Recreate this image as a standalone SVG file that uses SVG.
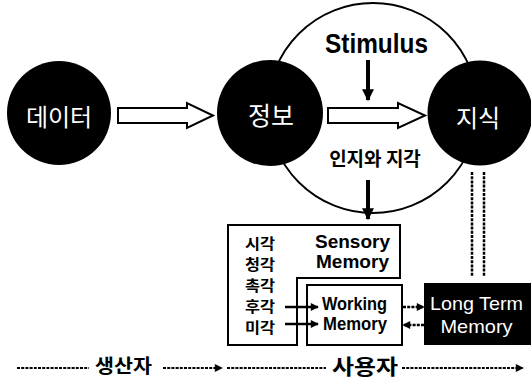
<svg xmlns="http://www.w3.org/2000/svg" width="531" height="383" viewBox="0 0 531 383">
<style>
.kr{font-family:"Noto Sans CJK KR","Noto Sans",sans-serif}
.en{font-family:"Liberation Sans",Arial,sans-serif}
.circ{fill:#000}
.ctext{fill:#fff;font-size:24px;text-anchor:middle}
.box{fill:#fff;stroke:#000;stroke-width:2}
.hollow{fill:#fff;stroke:#000;stroke-width:2;stroke-linejoin:miter}
.dot{fill:none;stroke:#000;stroke-width:2;stroke-dasharray:3 1.2}
.thick{fill:none;stroke:#000;stroke-width:4}
.mid{fill:none;stroke:#000;stroke-width:2.5}
.sense{font-size:15px;font-weight:bold}
.bold18{font-size:18px;font-weight:bold}
</style>
<defs>
<marker id="ahBig" viewBox="0 0 10 10" refX="9" refY="5" markerUnits="userSpaceOnUse" markerWidth="12" markerHeight="12" orient="auto">
<path d="M0,0 L10,5 L0,10 z" fill="#000"/>
</marker>
<marker id="ah" viewBox="0 0 10 10" refX="9" refY="5" markerUnits="userSpaceOnUse" markerWidth="9" markerHeight="8" orient="auto">
<path d="M0,0 L10,5 L0,10 z" fill="#000"/>
</marker>
</defs>
<rect width="531" height="383" fill="#fff"/>

<g id="perception-circle">
<circle cx="373" cy="108" r="105" fill="none" stroke="#000" stroke-width="1.8"/>
</g>

<g id="node-data">
<circle class="circ" cx="59" cy="113" r="52"/>
<text class="kr ctext" x="59" y="126">데이터</text>
</g>
<g id="node-info">
<circle class="circ" cx="270" cy="113" r="53"/>
<text class="kr ctext" x="271" y="125" style="font-size:25px">정보</text>
</g>
<g id="node-knowledge">
<circle class="circ" cx="480" cy="113" r="52.5"/>
<text class="kr ctext" x="478" y="127">지식</text>
</g>

<g id="label-stimulus">
<text class="en" x="325" y="53" font-size="28" font-weight="bold" textLength="103" lengthAdjust="spacingAndGlyphs">Stimulus</text>
</g>
<g id="label-perception">
<text class="kr" x="375" y="166" font-size="19" font-weight="bold" text-anchor="middle">인지와 지각</text>
</g>

<g id="node-sensory-memory">
<path class="box" d="M228,225 H400 V278 H297 V345 H228 Z"/>
<text class="kr sense" x="245" y="248.5" textLength="30" lengthAdjust="spacingAndGlyphs">시각</text>
<text class="kr sense" x="245" y="269.5" textLength="30" lengthAdjust="spacingAndGlyphs">청각</text>
<text class="kr sense" x="245" y="290.5" textLength="30" lengthAdjust="spacingAndGlyphs">촉각</text>
<text class="kr sense" x="245" y="311.5" textLength="30" lengthAdjust="spacingAndGlyphs">후각</text>
<text class="kr sense" x="245" y="332.5" textLength="30" lengthAdjust="spacingAndGlyphs">미각</text>
<text class="en bold18" x="315" y="247.5" textLength="75" lengthAdjust="spacingAndGlyphs">Sensory</text>
<text class="en bold18" x="316" y="268" textLength="73" lengthAdjust="spacingAndGlyphs">Memory</text>
</g>

<g id="node-working-memory">
<rect class="box" x="307" y="285" width="95" height="60"/>
<text class="en bold18" x="322" y="309.5" textLength="65" lengthAdjust="spacingAndGlyphs">Working</text>
<text class="en bold18" x="323" y="330" textLength="64" lengthAdjust="spacingAndGlyphs">Memory</text>
</g>

<g id="node-long-term-memory">
<rect x="424" y="283" width="107" height="62" fill="#000"/>
<text class="en" x="476.5" y="310" font-size="19" fill="#fff" text-anchor="middle" textLength="93" lengthAdjust="spacingAndGlyphs">Long Term</text>
<text class="en" x="476.5" y="333" font-size="19" fill="#fff" text-anchor="middle" textLength="72" lengthAdjust="spacingAndGlyphs">Memory</text>
</g>

<g id="label-producer">
<text class="kr" x="95" y="373" font-size="19" font-weight="bold" textLength="57" lengthAdjust="spacingAndGlyphs">생산자</text>
</g>
<g id="label-user">
<text class="kr" x="332" y="374" font-size="21" font-weight="bold" textLength="66" lengthAdjust="spacingAndGlyphs">사용자</text>
</g>

<g id="connectors">
<polygon class="hollow" points="118,108 187,108 187,103 213,115.5 187,128 187,123 118,123"/>
<polygon class="hollow" points="328,108 398,108 398,103 425,115.5 398,128 398,123 328,123"/>
<line class="thick" x1="368" y1="60" x2="368" y2="100" marker-end="url(#ahBig)"/>
<line class="thick" x1="368" y1="180" x2="368" y2="219" marker-end="url(#ahBig)"/>
<line class="dot" x1="472" y1="172" x2="472" y2="277" style="stroke-width:2.5"/>
<line class="dot" x1="484" y1="172" x2="484" y2="277" style="stroke-width:2.5"/>
<line class="mid" x1="285" y1="307" x2="318" y2="307" marker-end="url(#ah)"/>
<line class="mid" x1="285" y1="324" x2="318" y2="324" marker-end="url(#ah)"/>
<line class="dot" x1="403" y1="307" x2="424" y2="307" marker-end="url(#ah)" style="stroke-width:2.5"/>
<line class="dot" x1="424" y1="325" x2="403" y2="325" marker-end="url(#ah)" style="stroke-width:2.5"/>
<line class="dot" x1="17" y1="368" x2="89" y2="368"/>
<line class="dot" x1="163" y1="368" x2="222" y2="368" marker-end="url(#ah)"/>
<line class="dot" x1="227" y1="368" x2="326" y2="368"/>
<line class="dot" x1="402" y1="368" x2="523" y2="368" marker-end="url(#ah)"/>
</g>
</svg>
